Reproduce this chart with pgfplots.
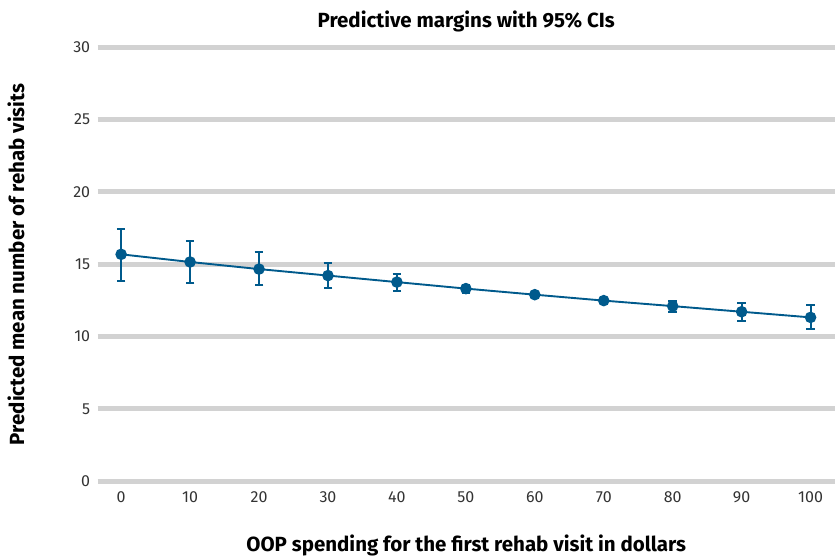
\documentclass[border=0pt]{standalone}
\usepackage{pgfplots}
\pgfplotsset{compat=1.18}
\usepackage{fontspec}
\setmainfont{Fira Sans}
\definecolor{mblue}{HTML}{005A8C}
\definecolor{gridgray}{HTML}{D2D2D2}
\begin{document}
\begin{tikzpicture}
\useasboundingbox (0pt,0pt) rectangle (839pt,560pt);
\begin{axis}[
  at={(97.7pt,78.7pt)}, anchor=south west,
  scale only axis, width=737pt, height=434pt,
  xmin=-3.4, xmax=103.5, ymin=0, ymax=30,
  axis line style={draw=none},
  clip=false,
  major tick length=0pt,
  xtick={0,10,...,100}, ytick={0,5,...,30},
  ymajorgrids, grid style={gridgray, line width=5pt},
  /pgf/number format/assume math mode=true,
  tick label style={font=\fontsize{16}{18}\selectfont\addfontfeatures{Weight=Light}, text=black!80},
  yticklabel style={xshift=-4pt},
  xticklabel style={yshift=-7pt},
  title={\textbf{Predictive margins with 95\% CIs}},
  title style={font=\fontsize{20.5}{22}\selectfont, at={(0.5,1)}, yshift=6pt, anchor=south},
  xlabel={\textbf{OOP spending for the first rehab visit in dollars}},
  xlabel style={font=\fontsize{20.5}{22}\selectfont, yshift=-25pt},
  ylabel={\textbf{Predicted mean number of rehab visits}},
  ylabel style={font=\fontsize{20.5}{22}\selectfont, yshift=42pt},
]
\addplot[mblue, line width=1.9pt, mark=*, mark size=4.8pt,
  error bars/.cd, y dir=both, y explicit,
  error bar style={line width=2pt, mblue},
  error mark options={rotate=90, mark size=4.3pt, line width=2pt, mblue}]
coordinates {
(0,15.69) += (0,1.77) -= (0,1.82)
(10,15.16) += (0,1.47) -= (0,1.44)
(20,14.67) += (0,1.18) -= (0,1.10)
(30,14.22) += (0,0.87) -= (0,0.84)
(40,13.77) += (0,0.58) -= (0,0.59)
(50,13.32) += (0,0.28) -= (0,0.29)
(60,12.90) += (0,0.12) -= (0,0.12)
(70,12.49) += (0,0.10) -= (0,0.10)
(80,12.11) += (0,0.38) -= (0,0.44)
(90,11.72) += (0,0.63) -= (0,0.64)
(100,11.33) += (0,0.86) -= (0,0.83)
};
\end{axis}
\end{tikzpicture}
\end{document}
